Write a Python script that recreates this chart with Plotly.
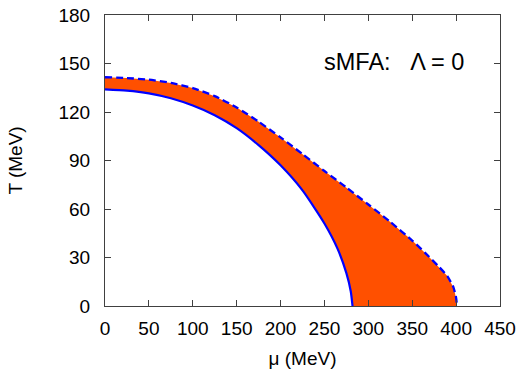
import plotly.graph_objects as go

# Solid boundary (lower)
mu_solid = [0, 25, 50, 75, 100, 125, 150, 175, 200, 225, 250, 265, 275, 280, 282]
T_solid = [134, 133.2, 131.5, 128.5, 124, 118, 110, 99.5, 87, 71.5, 51, 35.3, 20.3, 9, 0]

# Dashed boundary (upper)
mu_dash = [0, 25, 50, 75, 100, 125, 150, 175, 200, 225, 250, 275, 300, 325, 350, 365, 380, 390, 397, 400, 401]
T_dash = [141.5, 141, 140, 138, 134.8, 129.8, 122.8, 114, 104.3, 94, 83.5, 73.3, 62.8, 52, 40.5, 32.7, 24.5, 18.5, 11.5, 5, 0]

x_ticks = [0, 50, 100, 150, 200, 250, 300, 350, 400, 450]
y_ticks = [0, 30, 60, 90, 120, 150, 180]

fill_x = mu_dash + mu_solid[::-1]
fill_y = T_dash + T_solid[::-1]

fig = go.Figure()
fig.add_trace(go.Scatter(x=fill_x, y=fill_y, fill="toself", fillcolor="#FF5000",
                         line=dict(width=0), mode="lines", hoverinfo="skip", showlegend=False))
fig.add_trace(go.Scatter(x=mu_solid, y=T_solid, mode="lines",
                         line=dict(color="#0000FF", width=2.2, shape="spline", smoothing=0.6),
                         showlegend=False))
fig.add_trace(go.Scatter(x=mu_dash, y=T_dash, mode="lines",
                         line=dict(color="#0000FF", width=2.3, dash="7px,4px", shape="spline", smoothing=0.6),
                         showlegend=False))

font = "Liberation Sans, Arial, sans-serif"
axis_common = dict(showgrid=False, zeroline=False, showline=True, linecolor="#404040", linewidth=1.2,
                   mirror="ticks", ticks="inside", ticklen=6, tickcolor="#404040", automargin=False,
                   tickfont=dict(family=font, size=19, color="black"))

fig.update_layout(
    width=522, height=369,
    margin=dict(l=105, r=22, t=15, b=63),
    paper_bgcolor="white", plot_bgcolor="white",
    xaxis=dict(range=[0, 450], tickvals=x_ticks, ticktext=[str(v) for v in x_ticks],
               ticklabelstandoff=5,
               title=dict(text="μ (MeV)", font=dict(family=font, size=19, color="black"), standoff=15),
               **axis_common),
    yaxis=dict(range=[0, 180], tickvals=y_ticks, ticktext=[str(v) for v in y_ticks],
               ticklabelstandoff=10,
               title=dict(text="T (MeV)", font=dict(family=font, size=19, color="black"), standoff=30),
               **axis_common),
    annotations=[dict(x=0.913, y=0.8385, xref="paper", yref="paper",
                      text="sMFA:&nbsp;&nbsp;&nbsp;Λ = 0",
                      showarrow=False, xanchor="right", yanchor="middle",
                      font=dict(family=font, size=23.5, color="black"))],
)

fig.write_html("out.html")
